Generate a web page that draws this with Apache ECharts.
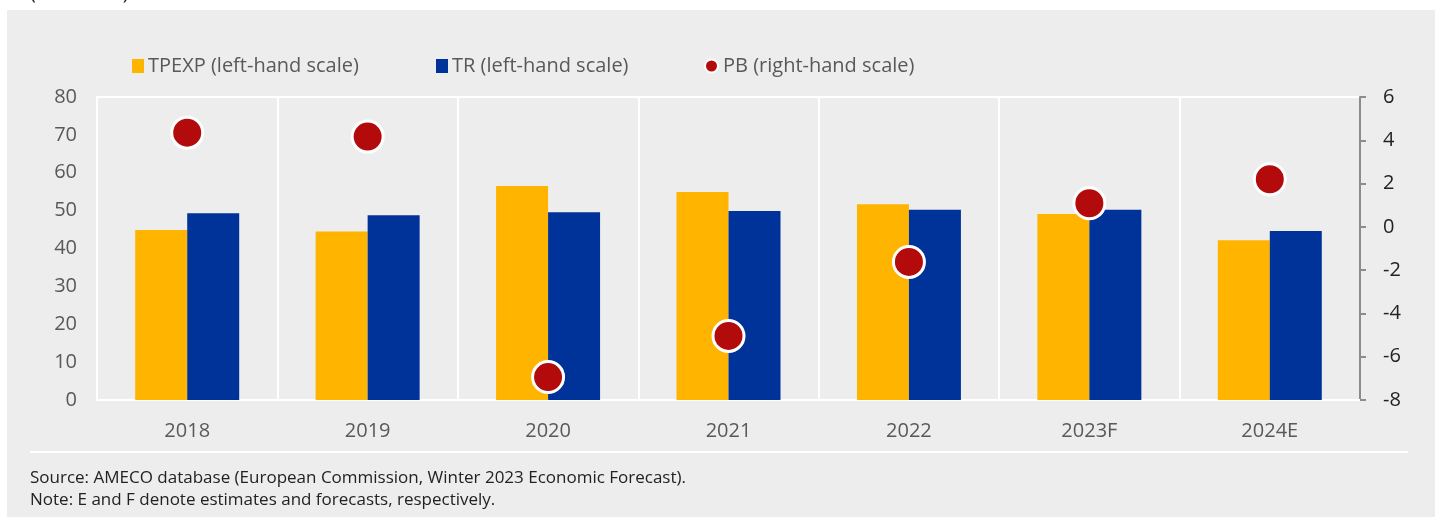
<!DOCTYPE html>
<html>
<head>
<meta charset="utf-8">
<script src="https://cdn.jsdelivr.net/npm/echarts@6/dist/echarts.min.js"></script>
<style>
html,body{margin:0;padding:0;background:#fff;}
#c{width:1435px;height:517px;}
</style>
</head>
<body>
<div id="c"></div>
<script>
const categories = ['2018', '2019', '2020', '2021', '2022', '2023F', '2024E'];
const tpexp = [44.9, 44.5, 56.5, 54.9, 51.7, 49.1, 42.2];
const tr = [49.3, 48.8, 49.6, 49.9, 50.2, 50.2, 44.6];
const pb = [4.35, 4.17, -6.94, -5.04, -1.62, 1.09, 2.2];
const leftTicks = [0, 80, 10];
const rightTicks = [-8, 6, 2];

const FONT = 'Open Sans';
const chart = echarts.init(document.getElementById('c'), null, {renderer: 'canvas'});
chart.setOption({
  animation: false,
  backgroundColor: '#ffffff',
  textStyle: {fontFamily: FONT},
  graphic: [
    {type: 'rect', z: -10, shape: {x: 7, y: 10, width: 1428, height: 507}, style: {fill: '#ededed'}},
    {type: 'line', z: -9, shape: {x1: 30, y1: 452, x2: 1408, y2: 452}, style: {stroke: '#ffffff', lineWidth: 2}},
    {type: 'text', left: 30, top: -17, style: {text: '(% of GDP)', fontSize: 20, fill: '#222', fontFamily: FONT}},
    {type: 'text', left: 30, top: 470, style: {text: 'Source: AMECO database (European Commission, Winter 2023 Economic Forecast).', fontSize: 17, fill: '#222', fontFamily: FONT}},
    {type: 'text', left: 30, top: 492, style: {text: 'Note: E and F denote estimates and forecasts, respectively.', fontSize: 17, fill: '#222', fontFamily: FONT}}
  ],
  legend: [
    {data: [{name: 'TPEXP (left-hand scale)', icon: 'rect'}], left: 132, top: 56, padding: 0, itemWidth: 12, itemHeight: 14, itemGap: 6,
     textStyle: {fontSize: 20, color: '#595959', fontFamily: FONT, padding: [0, 0, 0, -1]}},
    {data: [{name: 'TR (left-hand scale)', icon: 'rect'}], left: 436, top: 56, padding: 0, itemWidth: 12, itemHeight: 14,
     textStyle: {fontSize: 20, color: '#595959', fontFamily: FONT, padding: [0, 0, 0, -1]}},
    {data: [{name: 'PB (right-hand scale)', icon: 'circle', itemStyle: {borderWidth: 2, borderColor: '#ffffff'}}], left: 704, top: 56, padding: 0, itemWidth: 13, itemHeight: 13,
     textStyle: {fontSize: 20, color: '#595959', fontFamily: FONT}}
  ],
  grid: {left: 97, right: 75, top: 97, bottom: 117, show: true, borderColor: '#ffffff', borderWidth: 2, backgroundColor: 'transparent'},
  xAxis: {
    type: 'category', data: categories,
    axisLine: {lineStyle: {color: '#ffffff', width: 2}},
    axisTick: {show: false},
    splitLine: {show: true, lineStyle: {color: '#ffffff', width: 2}},
    axisLabel: {fontSize: 20, color: '#595959', margin: 21, fontFamily: FONT}
  },
  yAxis: [
    {type: 'value', min: leftTicks[0], max: leftTicks[1], interval: leftTicks[2],
     axisLine: {show: false}, axisTick: {show: false}, splitLine: {show: false},
     axisLabel: {fontSize: 20, color: '#595959', margin: 20, fontFamily: FONT}},
    {type: 'value', position: 'right', min: rightTicks[0], max: rightTicks[1], interval: rightTicks[2],
     axisLine: {show: true, lineStyle: {color: '#8c8c8c', width: 2}},
     axisTick: {show: true, length: 6, lineStyle: {color: '#8c8c8c', width: 2}},
     splitLine: {show: false},
     axisLabel: {fontSize: 20, color: '#222', margin: 23, fontFamily: FONT}}
  ],
  series: [
    {name: 'TPEXP (left-hand scale)', type: 'bar', data: tpexp, barWidth: 52, barGap: '0%',
     itemStyle: {color: '#FFB400'}},
    {name: 'TR (left-hand scale)', type: 'bar', data: tr, barWidth: 52, barGap: '0%',
     itemStyle: {color: '#003399'}},
    {name: 'PB (right-hand scale)', type: 'scatter', yAxisIndex: 1, data: pb, symbolSize: 31, z: 5,
     itemStyle: {color: '#B30B0B', opacity: 1, borderColor: '#ffffff', borderWidth: 3}}
  ]
});
</script>
</body>
</html>
